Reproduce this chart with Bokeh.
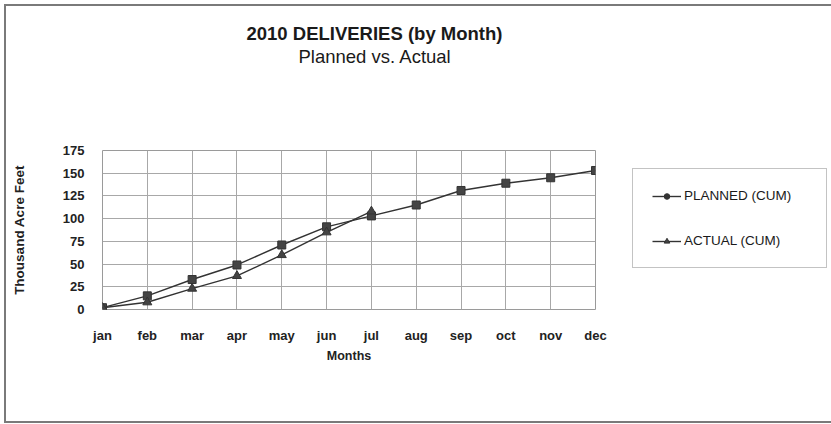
from bokeh.plotting import figure
from bokeh.models import (ColumnDataSource, FixedTicker, Legend, LegendItem, Title, Range1d)
from bokeh.embed import file_html
from bokeh.resources import INLINE

months = ["jan", "feb", "mar", "apr", "may", "jun", "jul", "aug", "sep", "oct", "nov", "dec"]
planned_cum = [2, 15, 33, 49, 71, 91, 103, 115, 131, 139, 145, 153]
actual_cum = [2, 8, 23, 37, 60, 85, 108]
y_ticks = [0, 25, 50, 75, 100, 125, 150, 175]

FONT = "Liberation Sans"
W, H = 831, 424
FL, FR, FT, FB = 102, 595, 150, 309  # frame edges in page pixels

p = figure(frame_width=FR - FL, frame_height=FB - FT,
           output_backend="svg", toolbar_location=None,
           x_range=Range1d(0, len(months) - 1), y_range=Range1d(0, 175),
           min_border_left=FL, min_border_right=W - FR,
           min_border_top=FT, min_border_bottom=H - FB)
p.background_fill_color = "white"
p.border_fill_color = None
p.outline_line_color = "#9a9a9a"
p.outline_line_width = 1
g = "linear-gradient(#7a7a7a,#7a7a7a)"
p.styles = {"background": (f"{g} 4px 4px / 2px 419px no-repeat, "
                           f"{g} 4px 4px / 827px 2px no-repeat, "
                           f"{g} 4px 421px / 827px 2px no-repeat, white")}

xs = list(range(len(months)))
src_p = ColumnDataSource(dict(x=xs, y=planned_cum))
src_a = ColumnDataSource(dict(x=xs[:len(actual_cum)], y=actual_cum))

lp = p.line("x", "y", source=src_p, line_color="#333333", line_width=1.4)
sp = p.scatter("x", "y", source=src_p, marker="square", size=8,
               fill_color="#444444", line_color="#333333")
la = p.line("x", "y", source=src_a, line_color="#333333", line_width=1.4)
sa = p.scatter("x", "y", source=src_a, marker="triangle", size=9,
               fill_color="#444444", line_color="#333333")
dummy = p.scatter(x=[-5], y=[-50], marker="circle", size=8, fill_color="#333333",
                  line_color="#333333")

p.xaxis.ticker = FixedTicker(ticks=xs)
p.xaxis.major_label_overrides = {i: m for i, m in enumerate(months)}
p.yaxis.ticker = FixedTicker(ticks=y_ticks)
for ax in (p.xaxis[0], p.yaxis[0]):
    ax.axis_line_color = None
    ax.major_tick_line_color = None
    ax.minor_tick_line_color = None
    ax.major_tick_out = 0
    ax.major_tick_in = 0
    ax.major_label_text_font = FONT
    ax.major_label_text_font_size = "13px"
    ax.major_label_text_font_style = "bold"
    ax.major_label_text_color = "#222222"
    ax.axis_label_text_font = FONT
    ax.axis_label_text_font_style = "bold"
    ax.axis_label_text_color = "#222222"

p.xaxis.axis_label = "Months"
p.xaxis.axis_label_text_font_size = "12.5px"
p.xaxis.major_label_standoff = 18
p.xaxis.axis_label_standoff = 3
p.yaxis.axis_label = "Thousand Acre Feet"
p.yaxis.axis_label_text_font_size = "13.5px"
p.yaxis.major_label_standoff = 18
p.yaxis.axis_label_standoff = 33

p.xgrid.ticker = FixedTicker(ticks=xs)
p.ygrid.ticker = FixedTicker(ticks=y_ticks)
p.xgrid.grid_line_color = "#a8a8a8"
p.ygrid.grid_line_color = "#a8a8a8"

# title stack (first added sits nearest the frame): spacer, subtitle, title
p.add_layout(Title(text=" ", align="left", standoff=71, text_font=FONT,
                   text_font_size="10px"), "above")
p.add_layout(Title(text="Planned vs. Actual", align="left", offset=196,
                   standoff=0, text_font=FONT, text_font_size="18.5px",
                   text_font_style="normal", text_color="#1a1a1a"), "above")
p.add_layout(Title(text="2010 DELIVERIES (by Month)", align="left", offset=144,
                   standoff=0, text_font=FONT, text_font_size="18.5px",
                   text_font_style="bold", text_color="#1a1a1a"), "above")

legend = Legend(items=[LegendItem(label="PLANNED (CUM)", renderers=[lp, dummy]),
                       LegendItem(label="ACTUAL (CUM)", renderers=[la, sa])],
                location=(37, 41), orientation="vertical",
                padding=19, spacing=30, glyph_width=29, glyph_height=14,
                label_height=14, label_standoff=3, label_width=123,
                label_text_font=FONT, label_text_font_size="13.5px",
                label_text_color="#1a1a1a",
                border_line_color="#888888", border_line_width=1.2,
                background_fill_color="white", background_fill_alpha=1,
                margin=0)
p.add_layout(legend, "right")

open("out.html", "w").write(file_html(p, INLINE))
